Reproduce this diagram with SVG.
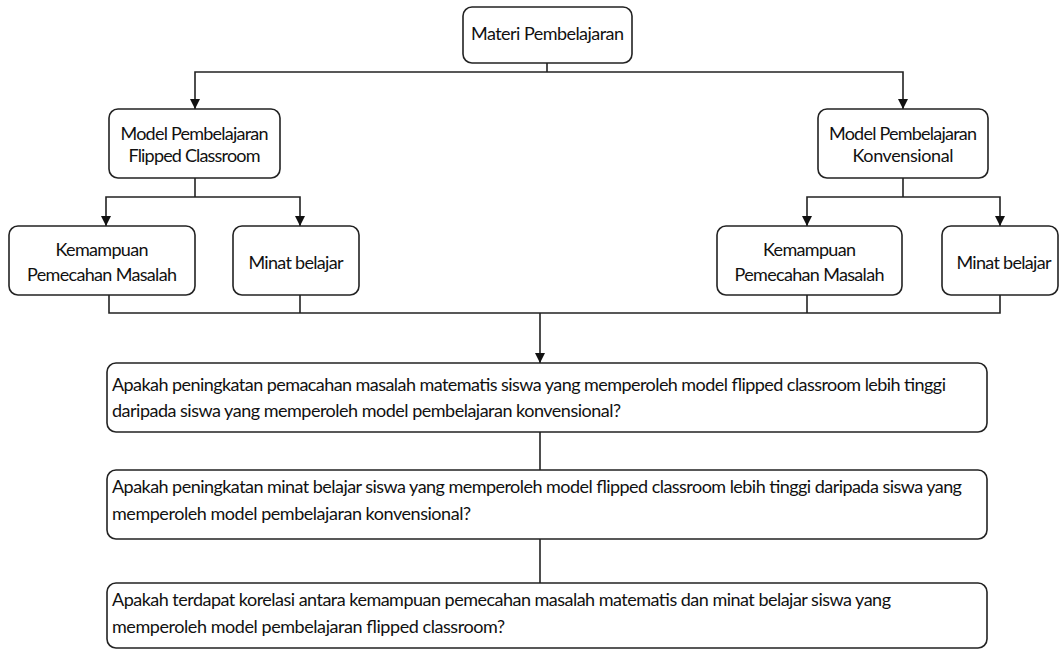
<svg xmlns="http://www.w3.org/2000/svg" width="1060" height="650" viewBox="0 0 1060 650">
<style>
.box{fill:#fff;stroke:#222;stroke-width:1.6}
.t{font-family:Lato,"Liberation Sans",sans-serif;font-size:18px;fill:#111}
.c{text-anchor:middle}
.ln{fill:none;stroke:#222;stroke-width:1.6}
</style>
<defs>
<marker id="ah" markerUnits="userSpaceOnUse" markerWidth="10" markerHeight="11" refX="10" refY="5" orient="auto">
<path d="M0,0 L10,5 L0,10 z" fill="#111"/>
</marker>
</defs>
<rect width="1060" height="650" fill="#fff"/>
<g id="connectors">
<path class="ln" d="M547,63 V72"/>
<path class="ln" d="M547,72 H195 V109" marker-end="url(#ah)"/>
<path class="ln" d="M547,72 H903 V109" marker-end="url(#ah)"/>
<path class="ln" d="M195,178 V197"/>
<path class="ln" d="M195,197 H106 V226" marker-end="url(#ah)"/>
<path class="ln" d="M195,197 H300 V226" marker-end="url(#ah)"/>
<path class="ln" d="M903,178 V197"/>
<path class="ln" d="M903,197 H807 V226" marker-end="url(#ah)"/>
<path class="ln" d="M903,197 H1000 V226" marker-end="url(#ah)"/>
<path class="ln" d="M109,295 V313 H1000 V295"/>
<path class="ln" d="M300,295 V313"/>
<path class="ln" d="M807,295 V313"/>
<path class="ln" d="M540,313 V363" marker-end="url(#ah)"/>
<path class="ln" d="M540,432 V470"/>
<path class="ln" d="M540,539 V583"/>
</g>
<g id="n-materi">
<rect class="box" x="463" y="7" width="169" height="56" rx="9"/>
<text class="t c" x="547.5" y="40" textLength="153">Materi Pembelajaran</text>
</g>
<g id="n-flipped">
<rect class="box" x="109" y="109" width="171" height="69" rx="9"/>
<text class="t c" x="194.5" y="140" textLength="148">Model Pembelajaran</text>
<text class="t c" x="194.5" y="162" textLength="132">Flipped Classroom</text>
</g>
<g id="n-konv">
<rect class="box" x="818" y="109" width="170" height="69" rx="9"/>
<text class="t c" x="903" y="140" textLength="148">Model Pembelajaran</text>
<text class="t c" x="903" y="162" textLength="101">Konvensional</text>
</g>
<g id="n-kemampuan-l">
<rect class="box" x="9" y="226" width="186" height="69" rx="9"/>
<text class="t c" x="102" y="256" textLength="93">Kemampuan</text>
<text class="t c" x="102" y="281" textLength="150">Pemecahan Masalah</text>
</g>
<g id="n-minat-l">
<rect class="box" x="233" y="226" width="126" height="69" rx="9"/>
<text class="t c" x="296" y="269" textLength="95">Minat belajar</text>
</g>
<g id="n-kemampuan-r">
<rect class="box" x="717" y="226" width="185" height="69" rx="9"/>
<text class="t c" x="809.5" y="256" textLength="93">Kemampuan</text>
<text class="t c" x="809.5" y="281" textLength="150">Pemecahan Masalah</text>
</g>
<g id="n-minat-r">
<rect class="box" x="942" y="226" width="116" height="69" rx="9"/>
<text class="t c" x="1004" y="269" textLength="95">Minat belajar</text>
</g>
<g id="n-q1">
<rect class="box" x="107" y="363" width="880" height="69" rx="9"/>
<text class="t" x="112" y="391" textLength="834">Apakah peningkatan pemacahan masalah matematis siswa yang memperoleh model flipped classroom lebih tinggi</text>
<text class="t" x="112" y="417" textLength="509">daripada siswa yang memperoleh model pembelajaran konvensional?</text>
</g>
<g id="n-q2">
<rect class="box" x="107" y="470" width="880" height="69" rx="9"/>
<text class="t" x="112" y="493" textLength="850">Apakah peningkatan minat belajar siswa yang memperoleh model flipped classroom lebih tinggi daripada siswa yang</text>
<text class="t" x="112" y="520" textLength="359">memperoleh model pembelajaran konvensional?</text>
</g>
<g id="n-q3">
<rect class="box" x="107" y="583" width="880" height="65" rx="9"/>
<text class="t" x="112" y="606" textLength="779">Apakah terdapat korelasi antara kemampuan pemecahan masalah matematis dan minat belajar siswa yang</text>
<text class="t" x="112" y="633" textLength="393">memperoleh model pembelajaran flipped classroom?</text>
</g>
</svg>
